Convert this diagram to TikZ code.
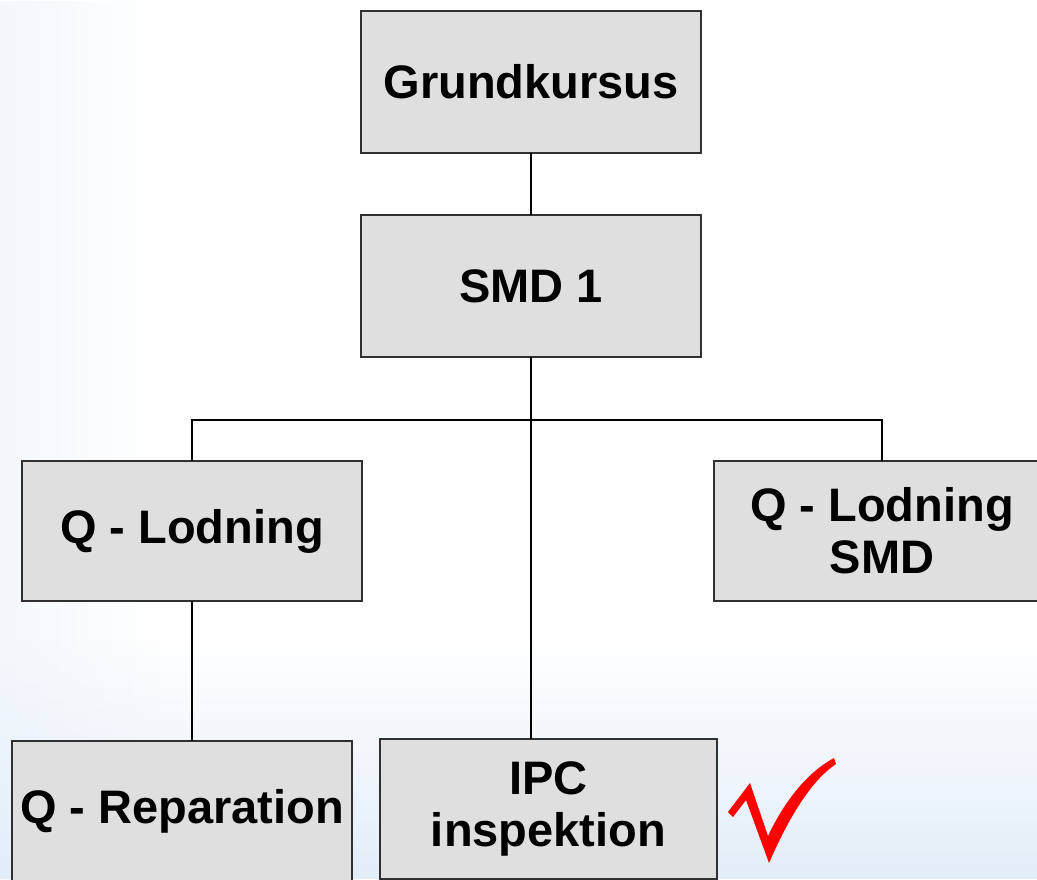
\documentclass[tikz,border=0pt]{standalone}
\usepackage{fontspec}
\setmainfont{Liberation Sans}
\usetikzlibrary{fadings}
\definecolor{boxfill}{HTML}{DFDFDF}
\definecolor{boxline}{HTML}{303030}
\definecolor{bgblue}{HTML}{E3EEF9}
\definecolor{checkred}{HTML}{FF0000}
\tikzfading[name=bgfaderight, left color=transparent!0, right color=transparent!100]
\tikzfading[name=bgfadeup, top color=transparent!100, bottom color=transparent!0]
\tikzset{
  box/.style={draw=boxline, line width=2pt, fill=boxfill, align=center,
    font=\fontsize{47}{52}\selectfont\bfseries, inner sep=0pt, outer sep=0pt},
  link/.style={draw=black, line width=2pt}
}
\begin{document}
\begin{tikzpicture}[x=1pt,y=-1pt]
\useasboundingbox (0,0) rectangle (1037,879);
\clip (0,0) rectangle (1037,879);
% background
\fill[white] (0,0) rectangle (1037,879);
\fill[bgblue, path fading=bgfaderight, opacity=0.4] (0,0) rectangle (160,879);
\fill[bgblue, path fading=bgfadeup] (0,640) rectangle (1037,879);
% boxes
\node[box, minimum width=340pt, minimum height=142pt] (g) at (531,82) {Grundkursus};
\node[box, minimum width=340pt, minimum height=142pt] (s) at (531,286) {SMD 1};
\node[box, minimum width=340pt, minimum height=140pt] (ql) at (192,531) {Q - Lodning};
\node[box, minimum width=336pt, minimum height=140pt] (qs) at (882,531) {Q - Lodning\\SMD};
\node[box, minimum width=340pt, minimum height=140pt] (qr) at (182,811) {Q - Reparation};
\node[box, minimum width=337pt, minimum height=140pt] (ipc) at (548.5,809) {IPC\\inspektion};
% connectors
\coordinate (bus) at (531,420);
\draw[link] (g.south) -- (s.north);
\draw[link] (s.south) -- (s.south |- ipc.north);
\draw[link] (ql.north) |- (bus) -| (qs.north);
\draw[link] (ql.south) -- (ql.south |- qr.north);
% check mark
\fill[checkred] (728,812) -- (750,783) -- (768,836)
  .. controls (785,800) and (808,772) .. (834,758)
  -- (836,764)
  .. controls (812,780) and (790,815) .. (769,863)
  -- (746,800) -- (733,817) -- cycle;
\end{tikzpicture}
\end{document}
